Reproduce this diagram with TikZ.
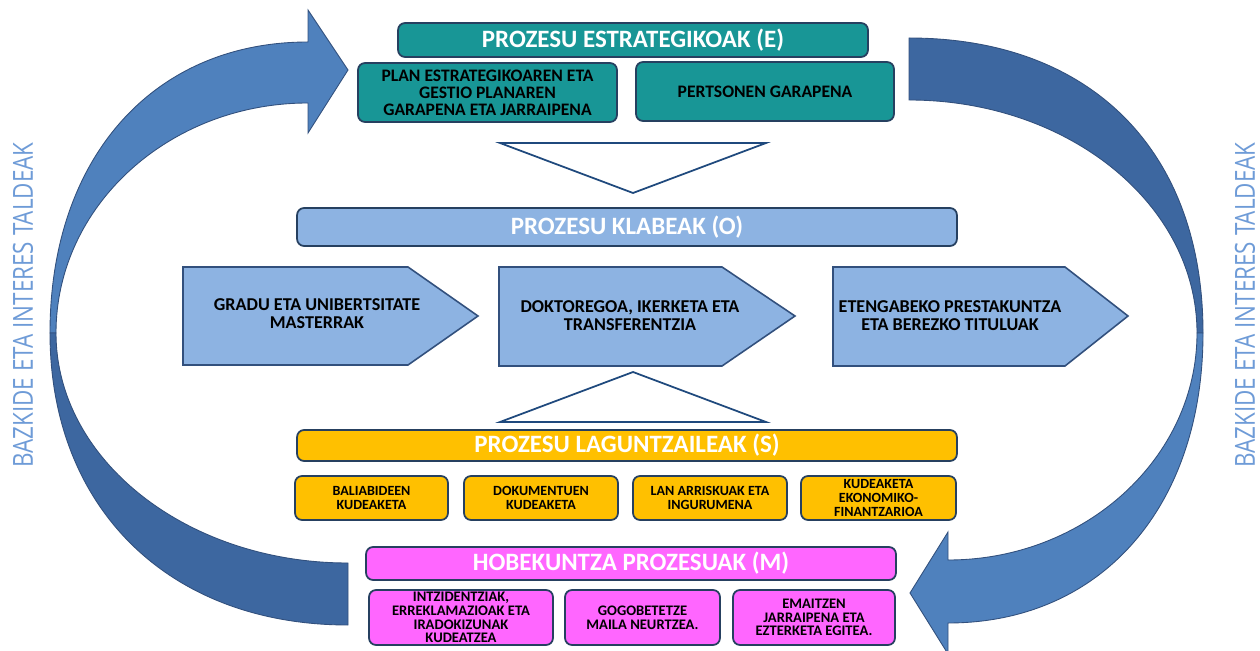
\documentclass[tikz,border=0pt]{standalone}
\usepackage{fontspec}
\setmainfont{Carlito}
\newfontfamily\sidefont{Open Sans}
\usepackage{graphicx}
\definecolor{tealbox}{RGB}{24,150,150}
\definecolor{klabe}{RGB}{141,179,226}
\definecolor{lagun}{RGB}{255,192,0}
\definecolor{hobe}{RGB}{255,102,255}
\definecolor{boxline}{RGB}{38,64,96}
\definecolor{arrowlight}{RGB}{79,129,189}
\definecolor{arrowdark}{RGB}{61,103,160}
\definecolor{arrowline}{RGB}{50,80,125}
\definecolor{sidetext}{RGB}{110,155,215}
\definecolor{triline}{RGB}{31,73,125}
\begin{document}
\begin{tikzpicture}[x=0.02cm,y=-0.02cm,
  box/.style={draw=boxline, line width=1pt, rounded corners=4pt, align=center, inner sep=1pt},
  titlebox/.style={box, text=white, font=\fontsize{14.2}{16}\selectfont\bfseries},
  ebox/.style={box, fill=tealbox, font=\fontsize{10}{9.7}\selectfont\bfseries},
  sbox/.style={box, fill=lagun, font=\fontsize{8}{7.9}\selectfont\bfseries, minimum height=0.88cm},
  mbox/.style={box, fill=hobe, font=\fontsize{8.3}{7.8}\selectfont\bfseries, minimum height=1.1cm},
  pent/.style={draw=arrowline, line width=0.9pt, fill=klabe},
  penttext/.style={align=center, font=\fontsize{10.3}{10.2}\selectfont\bfseries},
  tri/.style={draw=triline, line width=1pt, fill=white},
  bigarrow/.style={draw=arrowline, line width=0.5pt},
  side/.style={rotate=90, text=sidetext, inner sep=0pt}
]
\useasboundingbox (0,0) rectangle (1260,651);

% ---- big curved arrows ----
% left arrow, upper (head) part
\path[bigarrow, fill=arrowlight] (348,70) -- (308,133) -- (308,103)
  .. controls (169,103) and (56,206) .. (56,333) -- (50,333)
  .. controls (50,158) and (153,42) .. (308,42) -- (308,10) -- cycle;
% left arrow, lower (tail) part
\path[bigarrow, fill=arrowdark] (50,333)
  .. controls (50,508) and (169,625) .. (348,625) -- (348,563)
  .. controls (187,563) and (56,460) .. (56,333) -- cycle;
% right arrow, upper (tail) part
\path[bigarrow, fill=arrowdark] (909,38)
  .. controls (1090,38) and (1203,150) .. (1203,333) -- (1197,333)
  .. controls (1197,204) and (1068,100) .. (909,100) -- cycle;
% right arrow, lower (head) part
\path[bigarrow, fill=arrowlight] (1203,333)
  .. controls (1203,507) and (1101,623) .. (948,623) -- (948,654)
  -- (910,593) -- (948,532) -- (948,560)
  .. controls (1085,560) and (1197,458) .. (1197,333) -- cycle;

% ---- side labels ----
\node[side] (sideL) at (23,305) {\resizebox{6.5cm}{0.4cm}{\sidefont BAZKIDE ETA INTERES TALDEAK}};
\node[side] (sideR) at (1245,305) {\resizebox{6.5cm}{0.4cm}{\sidefont BAZKIDE ETA INTERES TALDEAK}};

% ---- strategic ----
\node[titlebox, fill=tealbox, minimum width=9.4cm, minimum height=0.68cm] (E) at (633,40) {PROZESU ESTRATEGIKOAK (E)};
\node[ebox, minimum width=5.18cm, minimum height=1.18cm] (E1) at (487.5,92.5) {PLAN ESTRATEGIKOAREN ETA\\GESTIO PLANAREN\\GARAPENA ETA JARRAIPENA};
\node[ebox, minimum width=5.16cm, minimum height=1.18cm] (E2) at (765,91.5) {PERTSONEN GARAPENA};

\path[tri] (500,143) -- (766,143) -- (633,193) -- cycle;

% ---- key ----
\node[titlebox, fill=klabe, minimum width=13.2cm, minimum height=0.76cm] (O) at (627,227) {PROZESU KLABEAK (O)};
\path[pent] (183,267) -- (408,267) -- (478,316) -- (408,365) -- (183,365) -- cycle;
\path[pent] (499,267) -- (722,267) -- (795,316) -- (722,366) -- (499,366) -- cycle;
\path[pent] (833,267) -- (1065,267) -- (1128,316) -- (1065,366) -- (833,366) -- cycle;
\node[penttext] (O1) at (317,314) {GRADU ETA UNIBERTSITATE\\MASTERRAK};
\node[penttext] (O2) at (630,316) {DOKTOREGOA, IKERKETA ETA\\TRANSFERENTZIA};
\node[penttext] (O3) at (950,316) {ETENGABEKO PRESTAKUNTZA\\ETA BEREZKO TITULUAK};

\path[tri] (633,372) -- (766,422) -- (500,422) -- cycle;

% ---- support ----
\node[titlebox, fill=lagun, minimum width=13.2cm, minimum height=0.62cm] (S) at (627,445.5) {PROZESU LAGUNTZAILEAK (S)};
\node[sbox, minimum width=3.06cm] (S1) at (371.5,498) {BALIABIDEEN\\KUDEAKETA};
\node[sbox, minimum width=3.08cm] (S2) at (541,498) {DOKUMENTUEN\\KUDEAKETA};
\node[sbox, minimum width=3.08cm] (S3) at (710,498) {LAN ARRISKUAK ETA\\INGURUMENA};
\node[sbox, minimum width=3.1cm] (S4) at (878.5,498) {KUDEAKETA\\EKONOMIKO-\\FINANTZARIOA};

% ---- improvement ----
\node[titlebox, fill=hobe, minimum width=10.6cm, minimum height=0.66cm] (M) at (631,563.5) {HOBEKUNTZA PROZESUAK (M)};
\node[mbox, minimum width=3.68cm] (M1) at (461,617.5) {INTZIDENTZIAK,\\ERREKLAMAZIOAK ETA\\IRADOKIZUNAK\\KUDEATZEA};
\node[mbox, minimum width=3.1cm] (M2) at (642.5,617.5) {GOGOBETETZE\\MAILA NEURTZEA.};
\node[mbox, minimum width=3.24cm] (M3) at (814,617.5) {EMAITZEN\\JARRAIPENA ETA\\EZTERKETA EGITEA.};
\end{tikzpicture}
\end{document}
